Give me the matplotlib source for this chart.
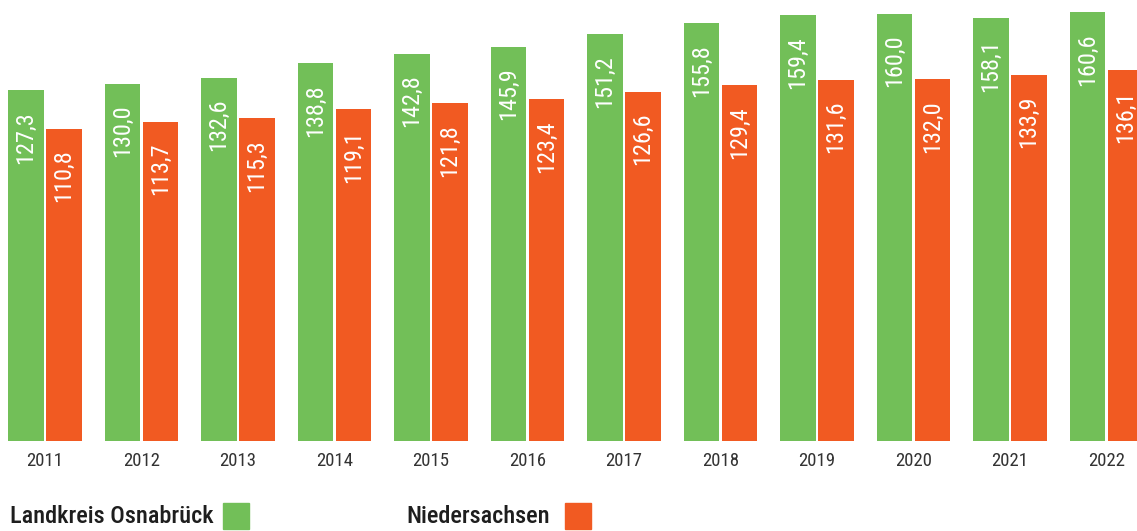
import matplotlib.pyplot as plt
from matplotlib.patches import Rectangle
import numpy as np

plt.rcParams["font.family"] = ["Roboto Condensed", "DejaVu Sans"]

years = ["2011", "2012", "2013", "2014", "2015", "2016",
         "2017", "2018", "2019", "2020", "2021", "2022"]
osnabrueck = [127.3, 130.0, 132.6, 138.8, 142.8, 145.9,
              151.2, 155.8, 159.4, 160.0, 158.1, 160.6]
niedersachsen = [110.8, 113.7, 115.3, 119.1, 121.8, 123.4,
                 126.6, 129.4, 131.6, 132.0, 133.9, 136.1]
series_names = ["Landkreis Osnabrück", "Niedersachsen"]

green = "#72bf58"
orange = "#f15a22"

fig = plt.figure(figsize=(11.37, 5.31), dpi=100)
ax = fig.add_axes([0, 90 / 531, 1, 441 / 531])

# the original chart's bars start below zero
base = -22.5
x = np.arange(len(years))
width = 0.363
off = 0.197

ax.bar(x - off, np.array(osnabrueck) - base, width, bottom=base, color=green)
ax.bar(x + off, np.array(niedersachsen) - base, width, bottom=base, color=orange)

for xi, v in zip(x - off, osnabrueck):
    ax.annotate(f"{v:.1f}".replace(".", ","), (xi, v), xytext=(0, -15),
                textcoords="offset points", rotation=90, ha="center", va="top",
                color="white", fontsize=17.5)
for xi, v in zip(x + off, niedersachsen):
    ax.annotate(f"{v:.1f}".replace(".", ","), (xi, v), xytext=(0, -15),
                textcoords="offset points", rotation=90, ha="center", va="top",
                color="white", fontsize=17.5)

ax.set_xlim(-45 / 96.5, (1137 - 45) / 96.5)
ax.set_ylim(base, 165.8)
ax.set_xticks(x)
ax.set_xticklabels(years, fontsize=13.5, color="#333333")
ax.tick_params(axis="x", length=0, pad=8)
ax.set_yticks([])
for s in ax.spines.values():
    s.set_visible(False)

# legend below the chart
fig.text(10 / 1137, 3 / 531, series_names[0], fontsize=17.5, color="#1e1e1e",
         fontweight=500, ha="left", va="bottom")
fig.add_artist(Rectangle((223 / 1137, 2 / 531), 26 / 1137, 26 / 531,
                         transform=fig.transFigure, color=green))
fig.text(406 / 1137, 3 / 531, series_names[1], fontsize=17.5, color="#1e1e1e",
         fontweight=500, ha="left", va="bottom")
fig.add_artist(Rectangle((565 / 1137, 2 / 531), 26 / 1137, 26 / 531,
                         transform=fig.transFigure, color=orange))

fig.savefig("out.png", dpi=100)
